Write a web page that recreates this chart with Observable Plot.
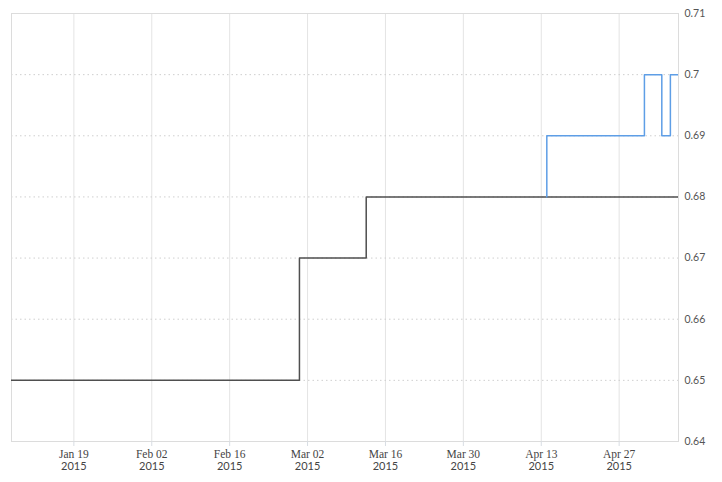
<!DOCTYPE html>
<html>
<head>
<meta charset="utf-8">
<script src="https://cdn.jsdelivr.net/npm/d3@7"></script>
<script src="https://cdn.jsdelivr.net/npm/@observablehq/plot@0.6"></script>
<style>
  html, body { margin: 0; padding: 0; background: #fff; }
  #chart svg { display: block; }
</style>
</head>
<body>
<div id="chart"></div>
<script>
// Series 1 (dark): change points of the step line
const darkDates = ["2015-01-07T00:00Z", "2015-02-28T13:00Z", "2015-03-12T13:00Z", "2015-05-09T00:00Z"];
const darkValues = [0.65, 0.67, 0.68, 0.68];

// Series 2 (blue): change points of the step line
const blueDates = ["2015-04-14T00:00Z", "2015-04-14T00:00Z", "2015-05-01T13:00Z", "2015-05-04T16:00Z", "2015-05-06T05:00Z", "2015-05-09T00:00Z"];
const blueValues = [0.68, 0.69, 0.70, 0.69, 0.70, 0.70];

// Axis ticks
const xTicks = ["2015-01-19", "2015-02-02", "2015-02-16", "2015-03-02", "2015-03-16", "2015-03-30", "2015-04-13", "2015-04-27"];
const yTicks = [0.64, 0.65, 0.66, 0.67, 0.68, 0.69, 0.70, 0.71];

const dark = darkDates.map((d, i) => ({date: new Date(d), value: darkValues[i]}));
const blue = blueDates.map((d, i) => ({date: new Date(d), value: blueValues[i]}));
const xTickDates = xTicks.map(d => new Date(d + "T00:00Z"));

const fmtMD = d3.utcFormat("%b %d");
const fmtY = d3.utcFormat("%Y");

const chart = Plot.plot({
  width: 722,
  height: 482,
  marginLeft: 11,
  marginRight: 44,
  marginTop: 13,
  marginBottom: 41,
  x: {type: "utc", domain: [new Date("2015-01-07T19:00Z"), new Date("2015-05-07T16:00Z")]},
  y: {domain: [0.64, 0.71]},
  marks: [
    Plot.gridX(xTickDates, {stroke: "#e4e4e4", strokeOpacity: 1}),
    Plot.gridY(yTicks.slice(1, -1), {stroke: "#cfcfcf", strokeOpacity: 1, strokeDasharray: "1.5,3"}),
    Plot.frame({stroke: "#dcdcdc"}),
    Plot.axisX(xTickDates, {
      tickSize: 5, tickPadding: 3, stroke: "#d8dde3",
      tickFormat: fmtMD, fontFamily: "Liberation Serif", fontSize: 11.5, fill: "#444", label: null
    }),
    Plot.axisX(xTickDates, {
      tickSize: 0, tickPadding: 21,
      tickFormat: fmtY, fontFamily: "Lato", fontSize: 11, fill: "#444", label: null
    }),
    Plot.axisY(yTicks, {
      anchor: "right", tickSize: 0, tickPadding: 6,
      tickFormat: d => String(+d.toFixed(2)), fontFamily: "Lato", fontSize: 10.5, fill: "#555", label: null
    }),
    Plot.line(dark, {x: "date", y: "value", curve: "step-after", stroke: "#4f4f4f", strokeWidth: 1.5, clip: true}),
    Plot.line(blue, {x: "date", y: "value", curve: "step-after", stroke: "#5e9ee6", strokeWidth: 1.5, clip: true})
  ]
});

document.getElementById("chart").appendChild(chart);
</script>
</body>
</html>
